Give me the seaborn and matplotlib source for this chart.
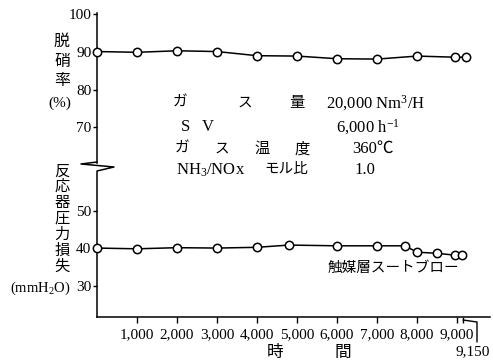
import matplotlib
matplotlib.use("Agg")
import pandas as pd
import matplotlib.pyplot as plt
import seaborn as sns
from matplotlib.lines import Line2D

sns.set_style("white")
plt.rcParams['font.family'] = ['Liberation Serif', 'Noto Sans CJK JP']
plt.rcParams['mathtext.fontset'] = 'custom'
plt.rcParams['mathtext.rm'] = 'Liberation Serif'
plt.rcParams['mathtext.it'] = 'Liberation Serif:italic'
plt.rcParams['text.color'] = 'black'
plt.rcParams['xtick.color'] = 'black'
plt.rcParams['ytick.color'] = 'black'

# 脱硝率 (%)
horas_dn = [0, 1000, 2000, 3000, 4000, 5000, 6000, 7000, 8000, 8950, 9220]
desnitr = [90.1, 89.9, 90.3, 90.1, 89.0, 88.9, 88.2, 88.1, 88.9, 88.6, 88.6]
# 反応器圧力損失 (mmH2O)
horas_pd = [0, 1000, 2000, 3000, 4000, 4800, 6000, 7000, 7700, 8000, 8500, 8950, 9120]
perda = [40.0, 39.8, 40.1, 40.0, 40.2, 40.8, 40.6, 40.6, 40.6, 38.9, 38.6, 38.1, 38.1]

xticks = [1000, 2000, 3000, 4000, 5000, 6000, 7000, 8000, 9000, 9150]
xticklabels = ['1,000', '2,000', '3,000', '4,000', '5,000', '6,000', '7,000', '8,000', '9,000', '']
yticks_top = [70, 80, 90, 100]
yticks_bot = [30, 40, 50]

df_dn = pd.DataFrame({'horas': horas_dn, 'valor': desnitr})
df_pd = pd.DataFrame({'horas': horas_pd, 'valor': perda})

W, H = 493, 364
def fx(px):
    return px / W
def fy(py):
    return 1 - py / H

fig = plt.figure(figsize=(4.93, 3.64), dpi=100)
ax_top = fig.add_axes([fx(97), fy(163), (490 - 97) / W, (163 - 13) / H])
ax_bot = fig.add_axes([fx(97), fy(317), (490 - 97) / W, (317 - 172) / H])

estilo = dict(color='black', marker='o', markersize=6.0, markerfacecolor='white',
              markeredgecolor='black', markeredgewidth=1.1, linewidth=1.1, clip_on=False, zorder=5)
sns.lineplot(data=df_dn, x='horas', y='valor', ax=ax_top, **estilo)
sns.lineplot(data=df_pd, x='horas', y='valor', ax=ax_bot, **estilo)

for ax in (ax_top, ax_bot):
    ax.set_xlim(0, 9825)
    ax.set_xlabel('')
    ax.set_ylabel('')
    ax.spines['top'].set_visible(False)
    ax.spines['right'].set_visible(False)
    for s in ax.spines.values():
        s.set_color('black')
        s.set_linewidth(1.1)
    ax.set_facecolor('none')
    ax.tick_params(axis='y', left=True, direction='out', length=3, width=1, pad=1, labelsize=11)

ax_top.spines['bottom'].set_visible(False)
ax_top.set_ylim(60.6, 100.3)
ax_top.set_yticks(yticks_top)
ax_top.set_xticks([])

ax_bot.set_ylim(21.6, 60.3)
ax_bot.set_yticks(yticks_bot)
ax_bot.set_xticks(xticks)
ax_bot.set_xticklabels(xticklabels)
ax_bot.tick_params(axis='x', bottom=True, direction='out', length=4, width=1, pad=4, labelsize=11)

# axis break
fig.add_artist(Line2D([fx(97), fx(81), fx(114), fx(97)], [fy(162), fy(164), fy(167), fy(171)],
                      transform=fig.transFigure, color='black', lw=1.1))
# 9,150 bracket
fig.add_artist(Line2D([fx(463), fx(477), fx(477)], [fy(320), fy(322), fy(342)],
                      transform=fig.transFigure, color='black', lw=1.0))
fig.text(fx(473), fy(352), '9,150', ha='center', va='center', fontsize=11)

# y labels
for ch, py in zip(['脱', '硝', '率'], [42, 62, 81]):
    fig.text(fx(62), fy(py), ch, ha='center', va='center', fontsize=11.5)
fig.text(fx(71), fy(103), '(%)', ha='right', va='center', fontsize=11)
for ch, py in zip(['反', '応', '器', '圧', '力', '損', '失'], [172, 187, 203, 219, 235, 251, 267]):
    fig.text(fx(62), fy(py), ch, ha='center', va='center', fontsize=11)
fig.text(fx(71), fy(288), '(mmH$_2$O)', ha='right', va='center', fontsize=10.5)

# x label
fig.text(fx(275), fy(353), '時', ha='center', va='center', fontsize=12)
fig.text(fx(343), fy(353), '間', ha='center', va='center', fontsize=12)

# conditions
cond = 12
fig.text(fx(180), fy(103), 'ガ', ha='center', va='center', fontsize=10.5)
fig.text(fx(245), fy(103), 'ス', ha='center', va='center', fontsize=10.5)
fig.text(fx(297), fy(103), '量', ha='center', va='center', fontsize=11)
fig.text(fx(326), fy(103), '20,000 Nm$^3$/H', ha='left', va='center', fontsize=cond)
fig.text(fx(186), fy(127), 'S', ha='center', va='center', fontsize=cond)
fig.text(fx(208), fy(127), 'V', ha='center', va='center', fontsize=cond)
fig.text(fx(336), fy(127), '6,000 h$^{-1}$', ha='left', va='center', fontsize=cond)
fig.text(fx(182), fy(149), 'ガ', ha='center', va='center', fontsize=10.5)
fig.text(fx(222), fy(149), 'ス', ha='center', va='center', fontsize=10.5)
fig.text(fx(262), fy(149), '温', ha='center', va='center', fontsize=11)
fig.text(fx(302), fy(149), '度', ha='center', va='center', fontsize=11)
fig.text(fx(352), fy(149), '360℃', ha='left', va='center', fontsize=cond)
fig.text(fx(176), fy(170), 'NH$_3$/NOx', ha='left', va='center', fontsize=cond)
fig.text(fx(264), fy(170), 'モル比', ha='left', va='center', fontsize=10.5)
fig.text(fx(354), fy(170), '1.0', ha='left', va='center', fontsize=cond)

fig.text(fx(328), fy(268), '触媒層スートブロー', ha='left', va='center', fontsize=10.5)

fig.savefig('out.png', dpi=100, facecolor='white')
